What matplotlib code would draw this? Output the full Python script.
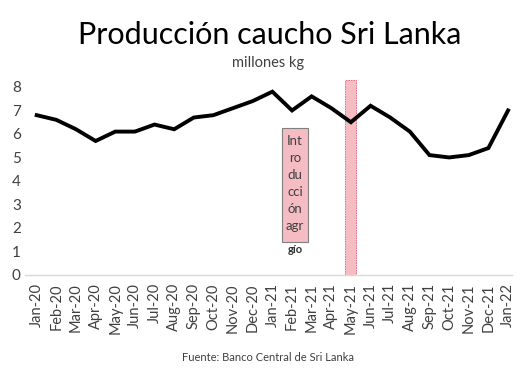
import matplotlib.pyplot as plt
from matplotlib.patches import Rectangle

plt.rcParams['font.family'] = ['Lato', 'DejaVu Sans']

meses = ['Jan-20', 'Feb-20', 'Mar-20', 'Apr-20', 'May-20', 'Jun-20', 'Jul-20',
         'Aug-20', 'Sep-20', 'Oct-20', 'Nov-20', 'Dec-20', 'Jan-21', 'Feb-21',
         'Mar-21', 'Apr-21', 'May-21', 'Jun-21', 'Jul-21', 'Aug-21', 'Sep-21',
         'Oct-21', 'Nov-21', 'Dec-21', 'Jan-22']
produccion = [6.8, 6.6, 6.2, 5.7, 6.1, 6.1, 6.4, 6.2, 6.7, 6.8, 7.1, 7.4, 7.8,
              7.0, 7.6, 7.1, 6.5, 7.2, 6.7, 6.1, 5.1, 5.0, 5.1, 5.4, 7.0]
mes_evento = 'May-21'
mes_nota = 'Feb-21'

fig = plt.figure(figsize=(5.3, 3.7), dpi=100)
ax = fig.add_axes([0.047, 0.257, 0.919, 0.527])

x = list(range(len(meses)))
ax.plot(x, produccion, color='black', lw=2.8, solid_joinstyle='miter')

# franja del evento
i = meses.index(mes_evento)
ax.add_patch(Rectangle((i - 0.28, 0), 0.56, 8.3, facecolor='#f6bcc3',
                       edgecolor='#e06070', ls=(0, (2, 1)), lw=0.6, zorder=1))

# cuadro de texto (el texto se sale del cuadro como en el original)
j = meses.index(mes_nota) - 0.5
ax.add_patch(Rectangle((j, 1.4), 1.32, 4.86, facecolor='#f6bcc3',
                       edgecolor='#808080', lw=0.8, zorder=3))
ax.text(j + 0.66, 5.95, 'Int\nro\ndu\ncci\nón\nagr', ha='center', va='top',
        fontsize=9.5, linespacing=1.5, color='#404040', zorder=4)
ax.text(j + 0.66, 1.1, 'gío', ha='center', va='center', fontsize=8,
        color='#303030', fontweight='bold', zorder=4)

ax.set_xlim(-0.6, 24.2)
ax.set_ylim(0, 8.3)
ax.set_yticks(range(0, 9))
ax.set_xticks(x)
ax.set_xticklabels(meses, rotation=90, fontsize=10.5, color='#404040')
ax.tick_params(axis='y', labelsize=11, labelcolor='#404040', length=0, pad=3)
ax.tick_params(axis='x', length=0, pad=6)
for s in ['top', 'right', 'left']:
    ax.spines[s].set_visible(False)
ax.spines['bottom'].set_color('#d9d9d9')
ax.spines['bottom'].set_linewidth(1.0)

fig.text(0.508, 0.905, 'Producción caucho Sri Lanka', ha='center', va='center',
         fontsize=22, color='black')
fig.text(0.505, 0.83, 'millones kg', ha='center', va='center', fontsize=10.5,
         color='#404040')
fig.text(0.505, 0.035, 'Fuente: Banco Central de Sri Lanka', ha='center',
         va='center', fontsize=8, color='#404040')

fig.savefig('out.png', dpi=100, facecolor='white')
